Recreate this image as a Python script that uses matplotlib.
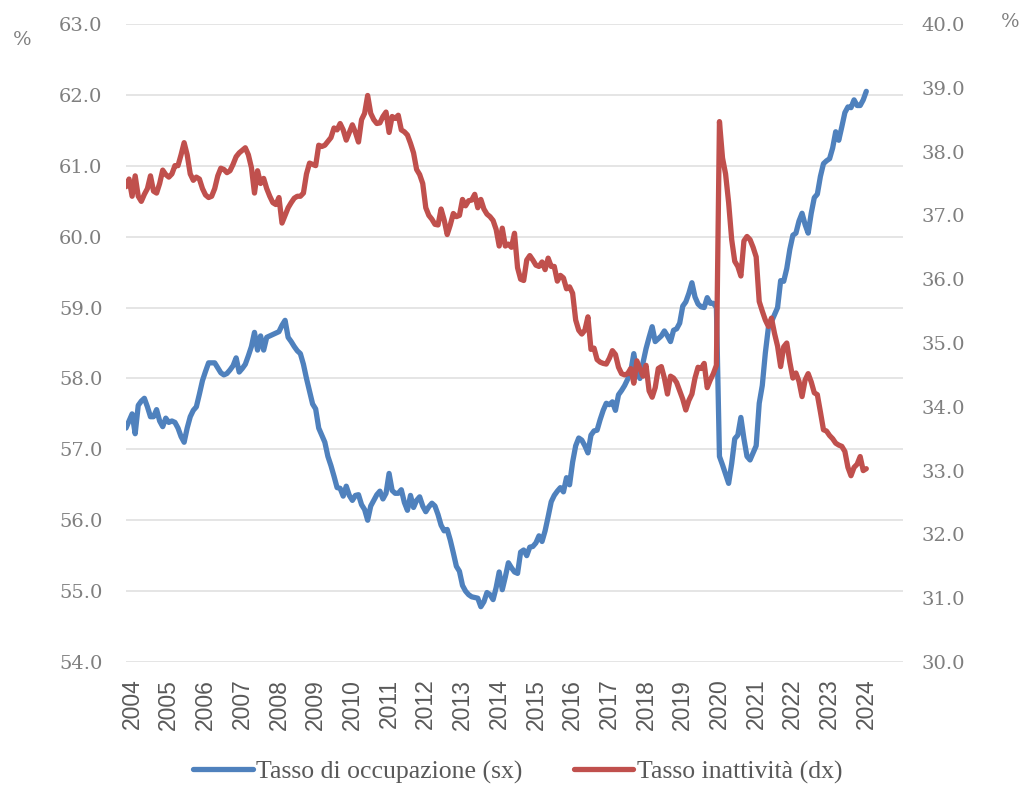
"""
Tasso di occupazione e tasso di inattività, dati mensili 2004-2024
"""
import numpy as np
import matplotlib.pyplot as plt
from matplotlib.ticker import FormatStrFormatter

#==================
# Dati mensili (gennaio 2004 - marzo 2024)
OCCUPAZIONE = [
    57.30, 57.40, 57.50, 57.22, 57.62, 57.68, 57.72, 57.60, 57.46, 57.46, 57.56, 57.40,
    57.32, 57.44, 57.38, 57.40, 57.38, 57.30, 57.18, 57.10, 57.30, 57.46, 57.55, 57.60,
    57.78, 57.97, 58.10, 58.22, 58.22, 58.22, 58.15, 58.08, 58.05, 58.07, 58.12, 58.18,
    58.29, 58.09, 58.14, 58.20, 58.32, 58.45, 58.65, 58.40, 58.60, 58.40, 58.58, 58.60,
    58.62, 58.64, 58.66, 58.75, 58.82, 58.58, 58.52, 58.45, 58.39, 58.35, 58.20, 58.00,
    57.82, 57.64, 57.57, 57.30, 57.20, 57.10, 56.90, 56.77, 56.62, 56.46, 56.45, 56.34,
    56.48, 56.35, 56.28, 56.35, 56.36, 56.22, 56.15, 56.00, 56.20, 56.28, 56.36, 56.41,
    56.30, 56.38, 56.66, 56.42, 56.38, 56.38, 56.43, 56.25, 56.14, 56.35, 56.18, 56.28,
    56.33, 56.20, 56.12, 56.19, 56.24, 56.20, 56.08, 55.93, 55.85, 55.87, 55.72, 55.54,
    55.35, 55.28, 55.08, 55.00, 54.95, 54.92, 54.91, 54.90, 54.78, 54.85, 54.98, 54.95,
    54.88, 55.05, 55.27, 55.02, 55.20, 55.40, 55.33, 55.27, 55.25, 55.55, 55.58, 55.50,
    55.62, 55.63, 55.68, 55.78, 55.70, 55.85, 56.05, 56.26, 56.35, 56.41, 56.46, 56.40,
    56.60, 56.50, 56.82, 57.05, 57.16, 57.13, 57.05, 56.95, 57.20, 57.26, 57.27, 57.42,
    57.55, 57.65, 57.63, 57.67, 57.55, 57.77, 57.83, 57.90, 57.99, 58.10, 58.35, 58.08,
    58.00, 58.22, 58.42, 58.58, 58.73, 58.52, 58.56, 58.60, 58.67, 58.60, 58.52, 58.68,
    58.70, 58.78, 59.02, 59.08, 59.20, 59.35, 59.15, 59.05, 59.01, 59.00, 59.14, 59.06,
    59.06, 59.00, 56.90, 56.78, 56.65, 56.52, 56.80, 57.15, 57.20, 57.45, 57.15, 56.90,
    56.85, 56.95, 57.05, 57.65, 57.90, 58.36, 58.72, 58.80, 58.90, 59.00, 59.38, 59.37,
    59.55, 59.82, 60.02, 60.05, 60.22, 60.33, 60.17, 60.05, 60.33, 60.55, 60.60, 60.85,
    61.03, 61.07, 61.10, 61.25, 61.48, 61.36, 61.55, 61.75, 61.83, 61.82, 61.93, 61.85,
    61.85, 61.93, 62.05,
]

INATTIVITA = [
    37.45, 37.57, 37.30, 37.62, 37.30, 37.22, 37.33, 37.42, 37.62, 37.38, 37.35, 37.50,
    37.71, 37.64, 37.60, 37.65, 37.78, 37.78, 37.95, 38.14, 37.95, 37.65, 37.55, 37.60,
    37.57, 37.42, 37.32, 37.28, 37.30, 37.42, 37.62, 37.74, 37.72, 37.67, 37.70, 37.80,
    37.92, 37.98, 38.02, 38.06, 37.95, 37.75, 37.35, 37.70, 37.50, 37.58, 37.42, 37.30,
    37.20, 37.17, 37.28, 36.88, 37.00, 37.12, 37.20, 37.27, 37.30, 37.30, 37.35, 37.65,
    37.82, 37.80, 37.78, 38.10, 38.08, 38.10, 38.16, 38.22, 38.37, 38.34, 38.44, 38.34,
    38.18, 38.30, 38.42, 38.30, 38.15, 38.50, 38.60, 38.88, 38.60, 38.50, 38.44, 38.45,
    38.55, 38.62, 38.30, 38.55, 38.52, 38.57, 38.34, 38.31, 38.26, 38.13, 37.98, 37.72,
    37.64, 37.50, 37.12, 37.00, 36.94, 36.86, 36.85, 37.10, 36.93, 36.70, 36.85, 37.03,
    36.98, 37.00, 37.25, 37.15, 37.23, 37.24, 37.33, 37.12, 37.25, 37.10, 37.02, 36.98,
    36.92, 36.78, 36.52, 36.80, 36.52, 36.55, 36.50, 36.72, 36.18, 36.00, 35.98, 36.30,
    36.37, 36.30, 36.22, 36.20, 36.27, 36.15, 36.33, 36.20, 36.20, 35.97, 36.06, 36.02,
    35.85, 35.88, 35.78, 35.36, 35.20, 35.14, 35.20, 35.41, 34.90, 34.92, 34.74, 34.70,
    34.68, 34.67, 34.76, 34.88, 34.82, 34.62, 34.52, 34.50, 34.52, 34.60, 34.37, 34.72,
    34.60, 34.48, 34.65, 34.25, 34.15, 34.30, 34.60, 34.63, 34.45, 34.20, 34.48, 34.45,
    34.38, 34.25, 34.12, 33.95, 34.10, 34.20, 34.45, 34.62, 34.60, 34.68, 34.30, 34.42,
    34.52, 34.65, 38.47, 37.90, 37.65, 37.20, 36.62, 36.28, 36.20, 36.05, 36.60, 36.67,
    36.62, 36.50, 36.35, 35.65, 35.50, 35.36, 35.26, 35.39, 35.15, 34.95, 34.63, 34.94,
    35.00, 34.70, 34.45, 34.53, 34.40, 34.16, 34.42, 34.52, 34.39, 34.22, 34.19, 33.92,
    33.64, 33.62, 33.55, 33.50, 33.43, 33.40, 33.38, 33.30, 33.05, 32.92, 33.05, 33.10,
    33.22, 33.00, 33.03,
]

ANNI = ['2004', '2005', '2006', '2007', '2008', '2009', '2010', '2011', '2012',
        '2013', '2014', '2015', '2016', '2017', '2018', '2019', '2020', '2021',
        '2022', '2023', '2024']

MESI = np.arange(len(OCCUPAZIONE))

BLU = '#4f81bd'
ROSSO = '#c0504d'
GRIGIO = '#7f7f7f'

#==================
# Grafico
FIG = plt.figure(figsize=(10.26, 7.87), dpi=100)
AX = FIG.add_axes([126 / 1026, 1 - 662 / 787, 777 / 1026, 638 / 787])
AX2 = AX.twinx()

L1, = AX.plot(MESI, OCCUPAZIONE, color=BLU, lw=3.8,
              solid_joinstyle='round', solid_capstyle='round',
              label='Tasso di occupazione (sx)')
L2, = AX2.plot(MESI, INATTIVITA, color=ROSSO, lw=3.8,
               solid_joinstyle='round', solid_capstyle='round',
               label='Tasso inattività (dx)')

AX.set_xlim(0, 254)
AX.set_ylim(54, 63)
AX2.set_ylim(30, 40)
AX.set_yticks(np.arange(54, 63.5, 1))
AX2.set_yticks(np.arange(30, 40.5, 1))
AX.yaxis.set_major_formatter(FormatStrFormatter('%.1f'))
AX2.yaxis.set_major_formatter(FormatStrFormatter('%.1f'))

AX.set_xticks([12 * k + 2 for k in range(len(ANNI))])
AX.set_xticklabels(ANNI, rotation=90, family='Liberation Sans',
                   fontsize=16.5, color='#595959')

AX.yaxis.grid(True, color='#e3e3e3', lw=1.3)
AX.set_axisbelow(True)

for a in (AX, AX2):
    for s in a.spines.values():
        s.set_visible(False)
    a.tick_params(length=0)

AX.tick_params(axis='y', pad=17, labelsize=14, labelcolor=GRIGIO)
AX2.tick_params(axis='y', pad=13, labelsize=14, labelcolor=GRIGIO)
AX.tick_params(axis='x', pad=12)
for lab in AX.get_yticklabels() + AX2.get_yticklabels():
    lab.set_family('DejaVu Serif')

FIG.text(22 / 1026, 1 - 40 / 787, '%', family='DejaVu Serif', fontsize=14,
         color=GRIGIO, ha='center', va='center')
FIG.text(1010 / 1026, 1 - 22 / 787, '%', family='DejaVu Serif', fontsize=14,
         color=GRIGIO, ha='center', va='center')

LEG = FIG.legend([L1, L2], [L1.get_label(), L2.get_label()],
                 loc='center', bbox_to_anchor=(518 / 1026, 1 - 772 / 787),
                 ncol=2, frameon=False, handlelength=2.3, handletextpad=0.15,
                 columnspacing=2.0,
                 prop={'family': 'Liberation Serif', 'size': 18.5})
for t in LEG.get_texts():
    t.set_color('#595959')

FIG.savefig('out.png', dpi=100)
